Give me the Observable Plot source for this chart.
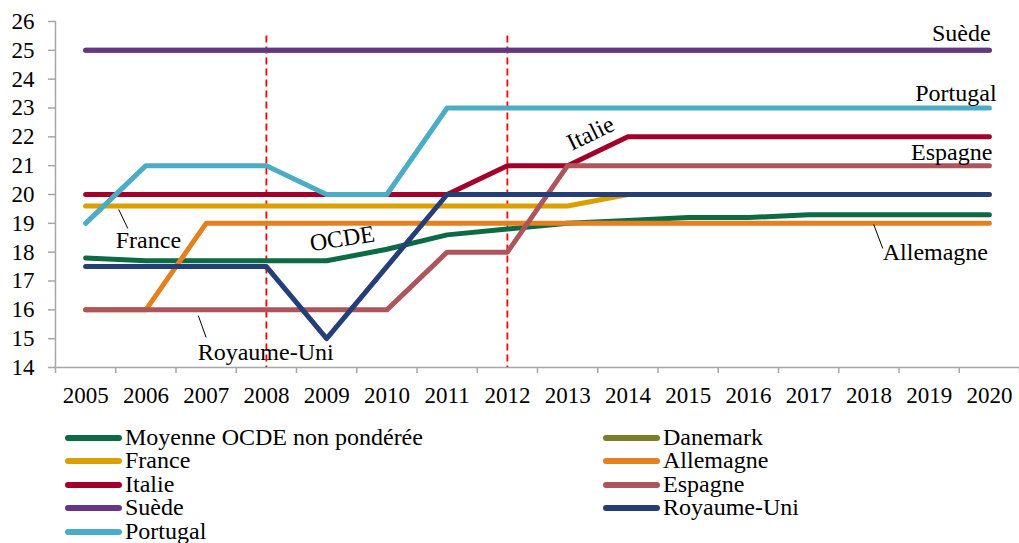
<!DOCTYPE html>
<html><head><meta charset="utf-8">
<script src="https://cdn.jsdelivr.net/npm/d3@7"></script>
<script src="https://cdn.jsdelivr.net/npm/@observablehq/plot@0.6"></script>
<style>
body{margin:0;background:#fff;font-family:'Liberation Serif','Times New Roman',serif;}
#chart svg{display:block;}
#legend{position:relative;height:123px;font-size:24px;color:#000;}
.item{position:absolute;display:flex;align-items:center;height:23.5px;line-height:23.5px;white-space:nowrap;}
.sw{width:57px;height:6px;border-radius:3px;margin-right:3px;}
</style></head>
<body><div id="chart"></div><div id="legend"></div>
<script>
const years = [2005,2006,2007,2008,2009,2010,2011,2012,2013,2014,2015,2016,2017,2018,2019,2020];
const yTicks = [14,15,16,17,18,19,20,21,22,23,24,25,26];
const seriesNames = ["Moyenne OCDE non pondérée","Danemark","France","Allemagne","Italie","Espagne","Suède","Royaume-Uni","Portugal"];
const ocde      = [17.8,17.7,17.7,17.7,17.7,18.1,18.6,18.8,19.0,19.1,19.2,19.2,19.3,19.3,19.3,19.3];
const danemark  = [25,25,25,25,25,25,25,25,25,25,25,25,25,25,25,25];
const france    = [19.6,19.6,19.6,19.6,19.6,19.6,19.6,19.6,19.6,20,20,20,20,20,20,20];
const allemagne = [16,16,19,19,19,19,19,19,19,19,19,19,19,19,19,19];
const italie    = [20,20,20,20,20,20,20,21,21,22,22,22,22,22,22,22];
const espagne   = [16,16,16,16,16,16,18,18,21,21,21,21,21,21,21,21];
const suede     = [25,25,25,25,25,25,25,25,25,25,25,25,25,25,25,25];
const royaumeUni= [17.5,17.5,17.5,17.5,15,17.5,20,20,20,20,20,20,20,20,20,20];
const portugal  = [19,21,21,21,20,20,23,23,23,23,23,23,23,23,23,23];
const seriesValues = [ocde,danemark,france,allemagne,italie,espagne,suede,royaumeUni,portugal];
const colors = ["#0b6b45","#7a7f2b","#dba000","#e3811f","#a2002a","#ae545b","#673585","#243f78","#4bacc6"];
const markerYears = [2008,2012];

const data = seriesNames.flatMap((name,i)=>years.map((year,j)=>({series:name,year,value:seriesValues[i][j]})));
const boundaries = years.map(y=>y-0.5).concat([years[years.length-1]+0.5]);
const grey = "#a6a6a6";
const serif = "'Liberation Serif', 'Times New Roman', serif";

const chart = Plot.plot({
  width:1019, height:420,
  marginLeft:55, marginRight:0, marginTop:21, marginBottom:53,
  style:{fontFamily:serif, fontSize:"23px", background:"#fff", color:"#000"},
  x:{type:"linear", domain:[boundaries[0], boundaries[boundaries.length-1]], label:null},
  y:{domain:[14,26], label:null},
  color:{domain:seriesNames, range:colors},
  marks:[
    Plot.axisY({ticks:yTicks, tickSize:7, tickPadding:14, stroke:grey, fill:"#000", tickFormat:d=>String(d), label:null, strokeWidth:1.5}),
    Plot.axisX({ticks:boundaries, tickSize:6, stroke:grey, tickFormat:()=>"", label:null, strokeWidth:1.5}),
    Plot.axisX({ticks:years, tickSize:0, tickPadding:19, fill:"#000", tickFormat:d=>String(d), label:null}),
    Plot.frame({anchor:"left", stroke:grey, strokeWidth:1.5}),
    Plot.frame({anchor:"bottom", stroke:grey, strokeWidth:1.5}),
    Plot.ruleX(markerYears, {x:d=>d, y1:25.5, y2:14, stroke:"#ff0000", strokeWidth:1.8, strokeDasharray:"7,4"}),
    Plot.line(data, {x:"year", y:"value", z:"series", stroke:"series", strokeWidth:5, strokeLinecap:"round", strokeLinejoin:"round"}),
    Plot.link([
      {x1:2018.08,y1:18.96,x2:2018.23,y2:18.13},
      {x1:2005.55,y1:19.48,x2:2005.7,y2:18.82},
      {x1:2006.87,y1:15.80,x2:2007.0,y2:15.04}
    ], {x1:"x1",y1:"y1",x2:"x2",y2:"y2", stroke:"#000", strokeWidth:1}),
    Plot.text([
      {t:"Suède", x:2020.02, y:25.58},
      {t:"Portugal", x:2020.12, y:23.5},
      {t:"Espagne", x:2020.05, y:21.46}
    ], {x:"x", y:"y", text:"t", textAnchor:"end", fontSize:24, fill:"#000"}),
    Plot.text([
      {t:"Allemagne", x:2018.23, y:17.99},
      {t:"France", x:2005.5, y:18.40},
      {t:"Royaume-Uni", x:2006.86, y:14.52}
    ], {x:"x", y:"y", text:"t", textAnchor:"start", fontSize:24, fill:"#000"}),
    Plot.text([{t:"OCDE", x:2009.26, y:18.47}], {x:"x", y:"y", text:"t", rotate:-9, fontSize:24, fill:"#000"}),
    Plot.text([{t:"Italie", x:2013.38, y:22.12}], {x:"x", y:"y", text:"t", rotate:-26, fontSize:24, fill:"#000"})
  ]
});
document.getElementById("chart").appendChild(chart);

const legend = document.getElementById("legend");
seriesNames.forEach((name,i)=>{
  const col = i % 2, row = Math.floor(i/2);
  const item = document.createElement("div");
  item.className = "item";
  item.style.left = (col===0 ? 65 : 603) + "px";
  item.style.top = (5.75 + row*23.5) + "px";
  const sw = document.createElement("div");
  sw.className = "sw";
  sw.style.background = colors[i];
  const label = document.createElement("span");
  label.textContent = name;
  item.appendChild(sw); item.appendChild(label);
  legend.appendChild(item);
});
</script>
</body></html>
